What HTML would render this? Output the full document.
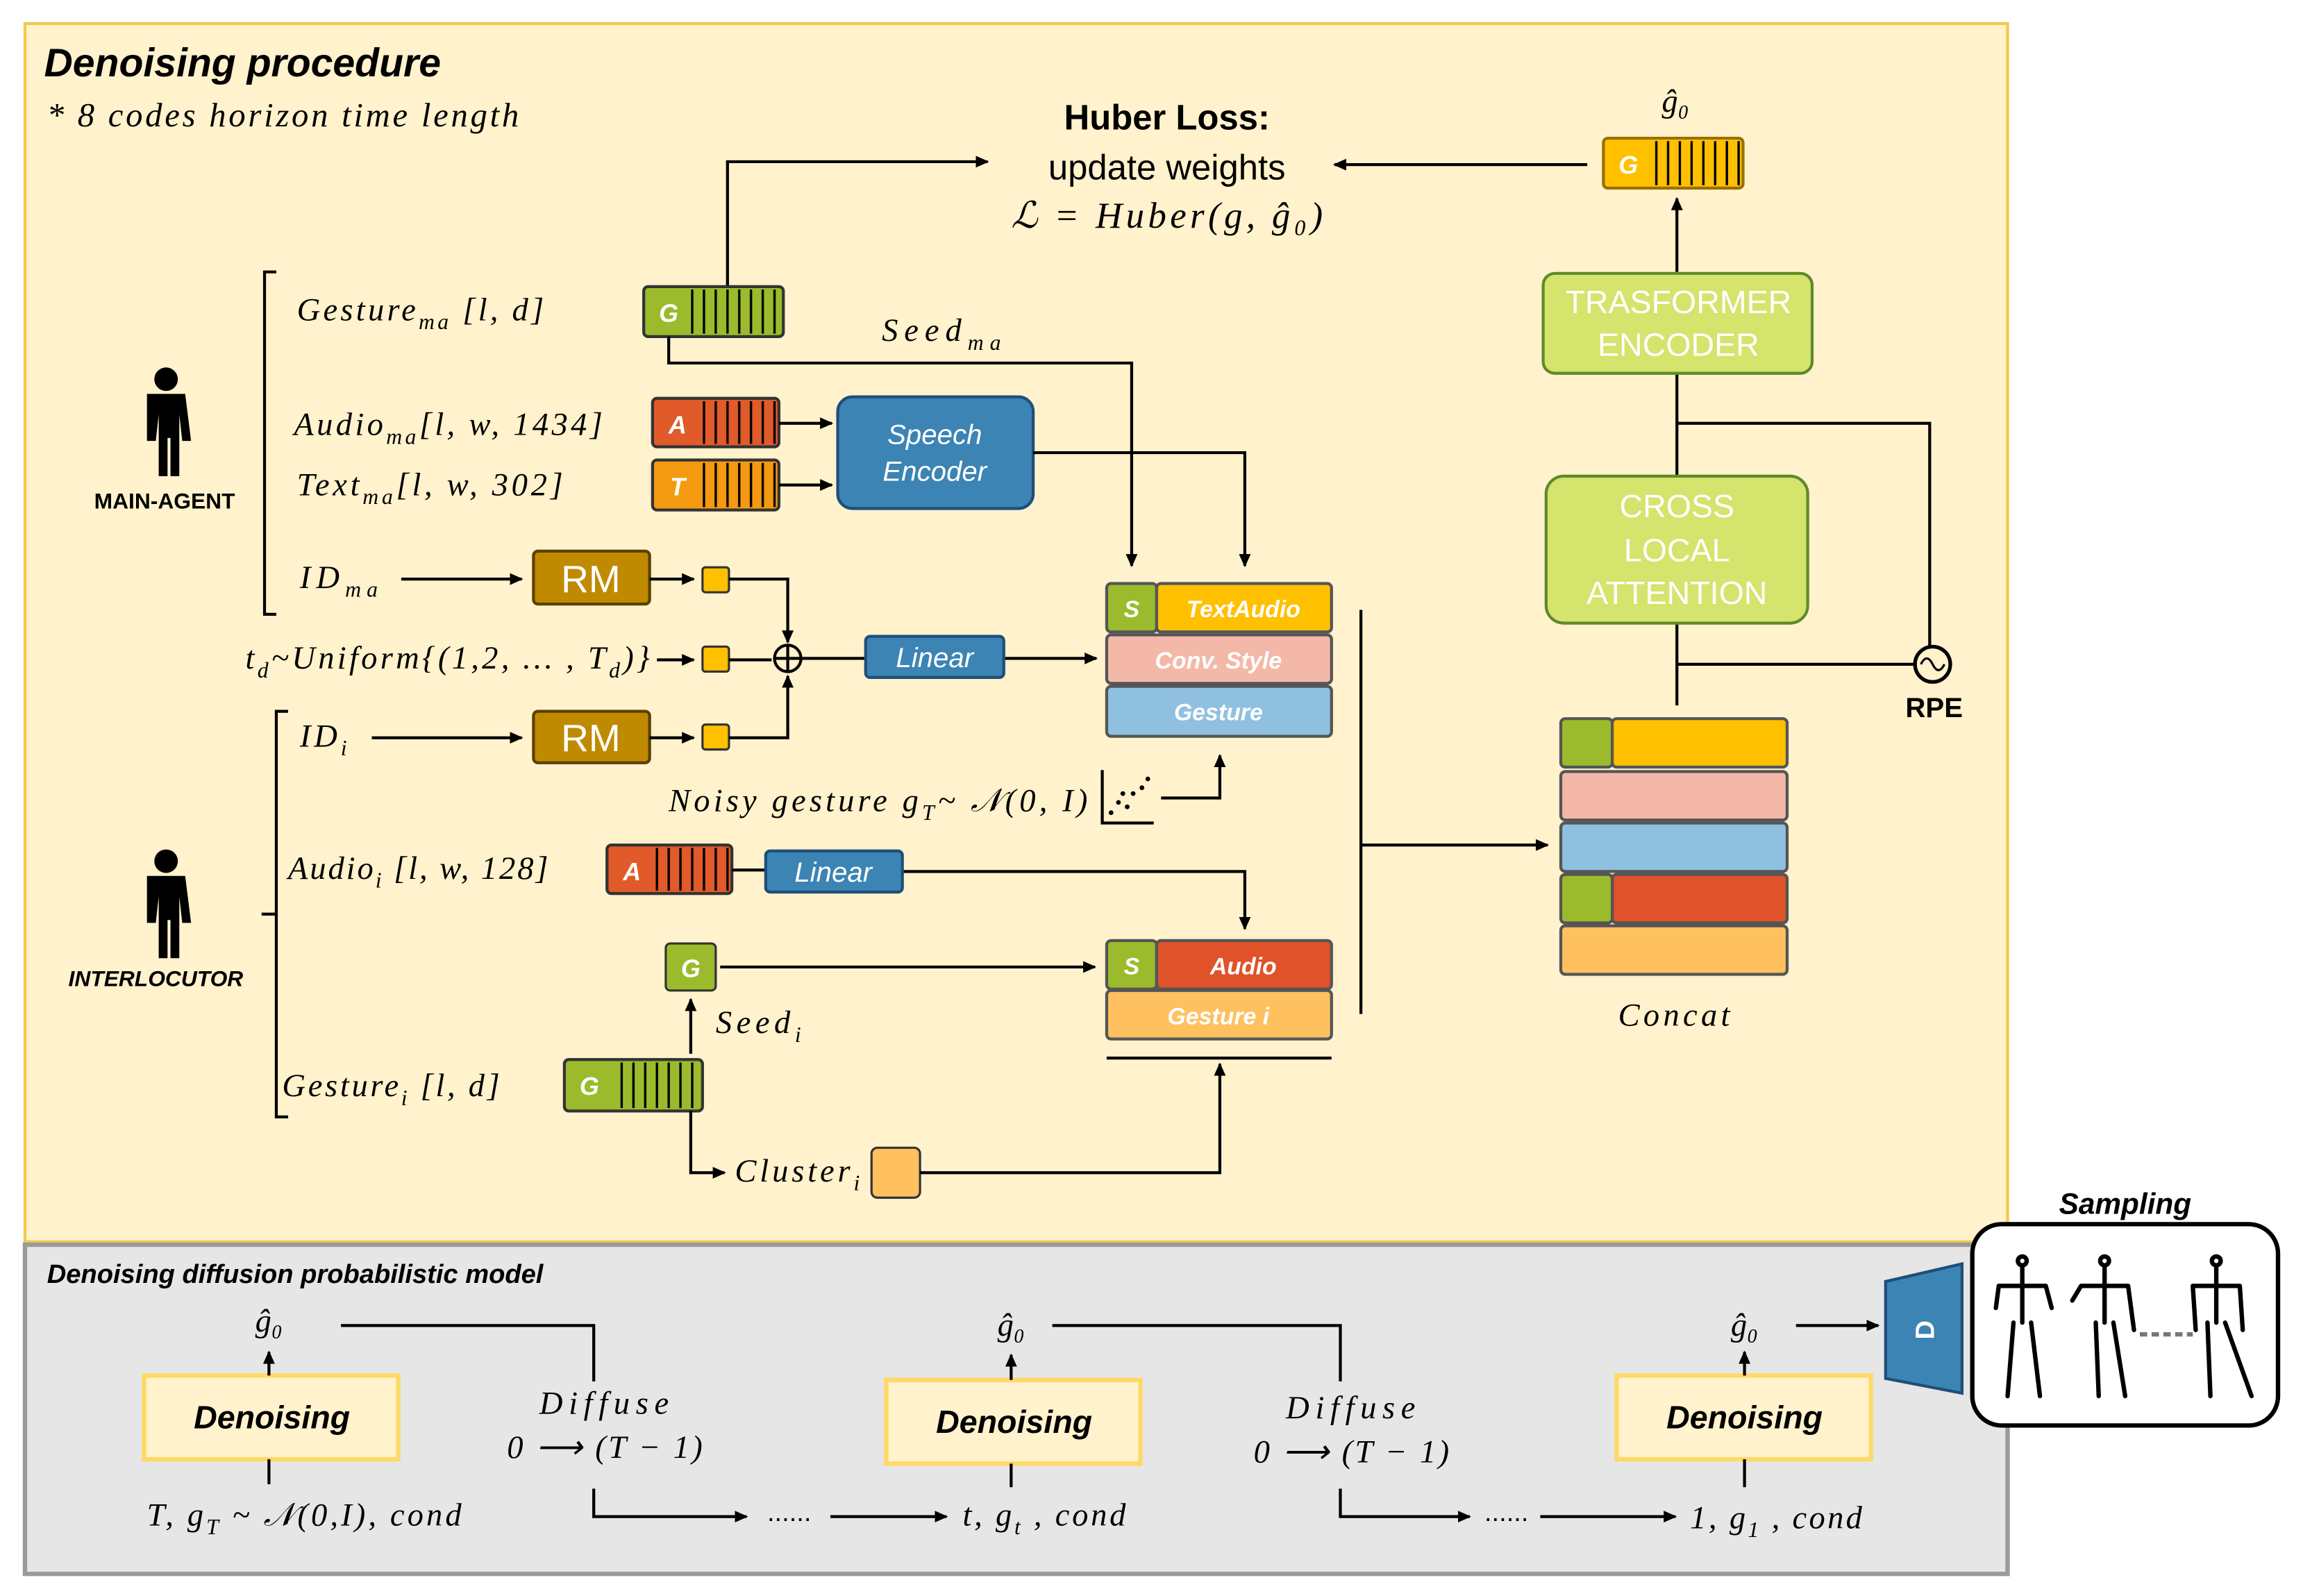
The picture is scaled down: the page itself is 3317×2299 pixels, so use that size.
<!DOCTYPE html>
<html><head><meta charset="utf-8"><style>
html,body{margin:0;padding:0;background:#fff}
svg{display:block}
.s{font-family:"Liberation Serif",serif;font-style:italic;}
.b{font-family:"Liberation Sans",sans-serif;font-weight:bold;font-style:italic;}
.n{font-family:"Liberation Sans",sans-serif;}
</style></head><body>
<svg width="3317" height="2299" viewBox="0 0 1567 1086" xmlns="http://www.w3.org/2000/svg">
<defs>
<marker id="a" markerWidth="10" markerHeight="10" refX="8" refY="5" orient="auto" markerUnits="userSpaceOnUse"><path d="M0,1 L9,5 L0,9 z" fill="#000"/></marker>
<pattern id="st" width="8" height="10" patternUnits="userSpaceOnUse"><rect width="8" height="10" fill="none"/><line x1="7" y1="0" x2="7" y2="10" stroke="#000" stroke-width="1.6"/></pattern>
</defs>
<rect x="0" y="0" width="1567" height="1086" fill="#fff"/>
<rect x="17" y="16" width="1349" height="829" fill="#fff2cc" stroke="#f2c94c" stroke-width="2"/>
<rect x="17" y="847" width="1349" height="224" fill="#e6e6e6" stroke="#9a9a9a" stroke-width="3"/>

<text x="30" y="52" class="b" font-size="27">Denoising procedure</text>
<text x="32" y="86" class="s" font-size="23" textLength="321" lengthAdjust="spacing">* 8 codes horizon time length</text>
<text x="794" y="88" class="n" font-weight="bold" font-size="24" text-anchor="middle">Huber Loss:</text>
<text x="794" y="122" class="n" font-size="24" text-anchor="middle">update weights</text>
<text x="688" y="155" class="s" font-size="25" textLength="212" lengthAdjust="spacing">ℒ = Huber(g, ĝ₀)</text>

<g stroke="#000" stroke-width="2" fill="none">
<path d="M495,195 V110 H672" marker-end="url(#a)"/>
<path d="M1080,112 H908" marker-end="url(#a)"/>
<path d="M1141,185 V135" marker-end="url(#a)"/>
<path d="M1141,254 V324 M1141,288 H1313 V440 M1141,424 V480 M1141,452 H1303"/>
<circle cx="1315" cy="452" r="12" stroke-width="2.5"/>
<path d="M1307,452 q4,-8 8,0 q4,8 8,0" stroke-width="1.5"/>
<path d="M926,415 V690 M926,575 H1053" marker-end="url(#a)"/>
</g>
<text x="1140" y="76" class="s" font-size="22" text-anchor="middle">ĝ₀</text>
<rect x="1091" y="94" width="95" height="34" fill="#ffc000" stroke="#9a7000" stroke-width="2" rx="3"/>
<rect x="1124" y="96" width="60" height="30" fill="url(#st)"/>
<text x="1108" y="118" class="b" font-size="17" fill="#fff" text-anchor="middle">G</text>

<rect x="1050" y="186" width="183" height="68" rx="8" fill="#d4e46c" stroke="#5f8a2a" stroke-width="2"/>
<text x="1142" y="213" class="n" font-size="22" fill="#fff" text-anchor="middle">TRASFORMER</text>
<text x="1142" y="242" class="n" font-size="22" fill="#fff" text-anchor="middle">ENCODER</text>
<rect x="1052" y="324" width="178" height="100" rx="12" fill="#d4e46c" stroke="#5f8a2a" stroke-width="2"/>
<text x="1141" y="352" class="n" font-size="22" fill="#fff" text-anchor="middle">CROSS</text>
<text x="1141" y="382" class="n" font-size="22" fill="#fff" text-anchor="middle">LOCAL</text>
<text x="1141" y="411" class="n" font-size="22" fill="#fff" text-anchor="middle">ATTENTION</text>
<text x="1316" y="488" class="n" font-weight="bold" font-size="19" text-anchor="middle">RPE</text>

<g stroke="#555" stroke-width="2">
<rect x="1062" y="489" width="35" height="33" fill="#9bbb2c" rx="3"/>
<rect x="1097" y="489" width="119" height="33" fill="#ffc000" rx="3"/>
<rect x="1062" y="525" width="154" height="33" fill="#f4b8a8" rx="3"/>
<rect x="1062" y="560" width="154" height="33" fill="#8fc0e0" rx="3"/>
<rect x="1062" y="595" width="35" height="33" fill="#9bbb2c" rx="3"/>
<rect x="1097" y="595" width="119" height="33" fill="#e0522a" rx="3"/>
<rect x="1062" y="630" width="154" height="33" fill="#ffc060" rx="3"/>
</g>
<text x="1101" y="698" class="s" font-size="22" textLength="76" lengthAdjust="spacing">Concat</text>

<!-- left -->
<path d="M188,185 H180 V418 H188" stroke="#000" stroke-width="2" fill="none"/>
<path d="M196,484 H188 V760 H196 M188,622 H178" stroke="#000" stroke-width="2" fill="none"/>
<g fill="#000">
<circle cx="113" cy="258" r="8"/><path d="M100,268 h26 l4,32 h-6 l-2,-18 v42 h-6 v-26 h-2 v26 h-6 v-42 l-2,18 h-6 z"/>
<circle cx="113" cy="586" r="8"/><path d="M100,596 h26 l4,32 h-6 l-2,-18 v42 h-6 v-26 h-2 v26 h-6 v-42 l-2,18 h-6 z"/>
</g>
<text x="112" y="346" class="n" font-weight="bold" font-size="15" text-anchor="middle">MAIN-AGENT</text>
<text x="106" y="671" class="b" font-size="15" text-anchor="middle">INTERLOCUTOR</text>

<text x="202" y="218" class="s" font-size="22" textLength="168" lengthAdjust="spacing">Gesture<tspan font-size="15" dy="6">ma</tspan><tspan dy="-6"> [l, d]</tspan></text>
<text x="200" y="296" class="s" font-size="22" textLength="210" lengthAdjust="spacing">Audio<tspan font-size="15" dy="6">ma</tspan><tspan dy="-6">[l, w, 1434]</tspan></text>
<text x="202" y="337" class="s" font-size="22" textLength="181" lengthAdjust="spacing">Text<tspan font-size="15" dy="6">ma</tspan><tspan dy="-6">[l, w, 302]</tspan></text>
<text x="204" y="400" class="s" font-size="22" textLength="53" lengthAdjust="spacing">ID<tspan font-size="15" dy="6">ma</tspan></text>
<text x="167" y="455" class="s" font-size="22" textLength="275" lengthAdjust="spacing">t<tspan font-size="15" dy="6">d</tspan><tspan dy="-6">~Uniform{(1,2, … , T</tspan><tspan font-size="15" dy="6">d</tspan><tspan dy="-6">)}</tspan></text>
<text x="204" y="508" class="s" font-size="22" textLength="32" lengthAdjust="spacing">ID<tspan font-size="15" dy="6">i</tspan></text>
<text x="196" y="598" class="s" font-size="22" textLength="177" lengthAdjust="spacing">Audio<tspan font-size="15" dy="6">i</tspan><tspan dy="-6"> [l, w, 128]</tspan></text>
<text x="192" y="746" class="s" font-size="22" textLength="148" lengthAdjust="spacing">Gesture<tspan font-size="15" dy="6">i</tspan><tspan dy="-6"> [l, d]</tspan></text>
<text x="600" y="232" class="s" font-size="22" textLength="81" lengthAdjust="spacing">Seed<tspan font-size="15" dy="6">ma</tspan></text>
<text x="487" y="703" class="s" font-size="22" textLength="58" lengthAdjust="spacing">Seed<tspan font-size="15" dy="6">i</tspan></text>
<text x="500" y="804" class="s" font-size="22" textLength="85" lengthAdjust="spacing">Cluster<tspan font-size="15" dy="6">i</tspan></text>
<text x="455" y="552" class="s" font-size="22" textLength="285" lengthAdjust="spacing">Noisy gesture g<tspan font-size="15" dy="6">T</tspan><tspan dy="-6">~ 𝒩(0, I)</tspan></text>

<!-- blocks -->
<g stroke="#333" stroke-width="2">
<rect x="438" y="195" width="95" height="34" rx="3" fill="#9bbb2c"/>
<rect x="444" y="271" width="86" height="33" rx="3" fill="#e05a2a"/>
<rect x="444" y="313" width="86" height="34" rx="3" fill="#f59a10"/>
<rect x="413" y="575" width="85" height="33" rx="3" fill="#e05a2a"/>
<rect x="384" y="721" width="94" height="35" rx="3" fill="#9bbb2c"/>
</g>
<rect x="470" y="197" width="62" height="30" fill="url(#st)"/>
<rect x="476" y="273" width="52" height="29" fill="url(#st)"/>
<rect x="476" y="315" width="52" height="30" fill="url(#st)"/>
<rect x="445" y="577" width="52" height="29" fill="url(#st)"/>
<rect x="416" y="723" width="60" height="31" fill="url(#st)"/>
<text x="455" y="219" class="b" font-size="17" fill="#fff" text-anchor="middle">G</text>
<text x="461" y="295" class="b" font-size="17" fill="#fff" text-anchor="middle">A</text>
<text x="461" y="337" class="b" font-size="17" fill="#fff" text-anchor="middle">T</text>
<text x="430" y="599" class="b" font-size="17" fill="#fff" text-anchor="middle">A</text>
<text x="401" y="745" class="b" font-size="17" fill="#fff" text-anchor="middle">G</text>

<rect x="570" y="270" width="133" height="76" rx="10" fill="#3c84b4" stroke="#1f4e79" stroke-width="2"/>
<text x="636" y="302" class="n" font-style="italic" font-size="19" fill="#fff" text-anchor="middle">Speech</text>
<text x="636" y="327" class="n" font-style="italic" font-size="19" fill="#fff" text-anchor="middle">Encoder</text>

<g stroke="#5a4000" stroke-width="2" fill="#c08a00">
<rect x="363" y="375" width="79" height="36" rx="3"/>
<rect x="363" y="484" width="79" height="35" rx="3"/>
</g>
<text x="402" y="403" class="n" font-size="26" fill="#fff" text-anchor="middle">RM</text>
<text x="402" y="511" class="n" font-size="26" fill="#fff" text-anchor="middle">RM</text>
<g fill="#ffc000" stroke="#333" stroke-width="1.5">
<rect x="478" y="386" width="18" height="17" rx="2"/>
<rect x="478" y="440" width="18" height="17" rx="2"/>
<rect x="478" y="493" width="18" height="17" rx="2"/>
</g>
<rect x="593" y="781" width="33" height="34" rx="4" fill="#ffc060" stroke="#333" stroke-width="1.5"/>

<g stroke="#000" stroke-width="2" fill="none">
<path d="M455,229 V247 H770 V385" marker-end="url(#a)"/>
<path d="M530,288 H566" marker-end="url(#a)"/>
<path d="M530,330 H566" marker-end="url(#a)"/>
<path d="M703,308 H847 V385" marker-end="url(#a)"/>
<path d="M273,394 H355" marker-end="url(#a)"/>
<path d="M442,394 H472" marker-end="url(#a)"/>
<path d="M496,394 H536 V437" marker-end="url(#a)"/>
<path d="M447,449 H472" marker-end="url(#a)"/>
<path d="M496,449 H525"/>
<path d="M253,502 H355" marker-end="url(#a)"/>
<path d="M442,502 H472" marker-end="url(#a)"/>
<path d="M496,502 H536 V460" marker-end="url(#a)"/>
<circle cx="536" cy="448" r="9"/>
<path d="M527,448 H545 M536,439 V457"/>
<path d="M545,448 H589"/>
<path d="M683,448 H746" marker-end="url(#a)"/>
<path d="M790,543 H830 V514" marker-end="url(#a)"/>
<path d="M498,592 H521 M614,593 H847 V632" marker-end="url(#a)"/>
<path d="M490,658 H745" marker-end="url(#a)"/>
<path d="M470,717 V680" marker-end="url(#a)"/>
<path d="M470,756 V798 H493" marker-end="url(#a)"/>
<path d="M626,798 H830 V724" marker-end="url(#a)"/>
<path d="M753,720 H906"/>
<path d="M750,524 V560 H785"/>
</g>
<g fill="#000"><circle cx="756" cy="553" r="1.6"/><circle cx="761" cy="546" r="1.6"/><circle cx="767" cy="549" r="1.6"/><circle cx="771" cy="540" r="1.6"/><circle cx="777" cy="536" r="1.6"/><circle cx="781" cy="530" r="1.6"/><circle cx="764" cy="540" r="1.6"/></g>

<rect x="589" y="433" width="94" height="28" rx="3" fill="#3c84b4" stroke="#1f4e79" stroke-width="2"/>
<text x="636" y="454" class="n" font-style="italic" font-size="19" fill="#fff" text-anchor="middle">Linear</text>
<rect x="521" y="579" width="93" height="28" rx="3" fill="#3c84b4" stroke="#1f4e79" stroke-width="2"/>
<text x="567" y="600" class="n" font-style="italic" font-size="19" fill="#fff" text-anchor="middle">Linear</text>
<rect x="453" y="642" width="34" height="32" rx="3" fill="#9bbb2c" stroke="#333" stroke-width="1.5"/>
<text x="470" y="665" class="b" font-size="17" fill="#fff" text-anchor="middle">G</text>

<g stroke="#555" stroke-width="2">
<rect x="753" y="397" width="34" height="33" rx="3" fill="#9bbb2c"/>
<rect x="787" y="397" width="119" height="33" rx="3" fill="#ffc000"/>
<rect x="753" y="432" width="153" height="33" rx="3" fill="#f4b8a8"/>
<rect x="753" y="467" width="153" height="34" rx="3" fill="#8fc0e0"/>
<rect x="753" y="640" width="34" height="33" rx="3" fill="#9bbb2c"/>
<rect x="787" y="640" width="119" height="33" rx="3" fill="#e0522a"/>
<rect x="753" y="674" width="153" height="33" rx="3" fill="#ffc060"/>
</g>
<g class="b" font-size="16" fill="#fff" text-anchor="middle">
<text x="770" y="420">S</text><text x="846" y="420">TextAudio</text>
<text x="829" y="455">Conv. Style</text><text x="829" y="490">Gesture</text>
<text x="770" y="663">S</text><text x="846" y="663">Audio</text><text x="829" y="697">Gesture i</text>
</g>

<!-- bottom -->
<text x="32" y="873" class="b" font-size="18">Denoising diffusion probabilistic model</text>
<g fill="#fff2cc" stroke="#ffd966" stroke-width="3">
<rect x="98" y="936" width="173" height="57"/>
<rect x="603" y="939" width="173" height="57"/>
<rect x="1100" y="936" width="173" height="57"/>
</g>
<g class="b" font-size="22" text-anchor="middle">
<text x="185" y="972">Denoising</text><text x="690" y="975">Denoising</text><text x="1187" y="972">Denoising</text>
</g>
<g class="s" font-size="22" text-anchor="middle">
<text x="183" y="906">ĝ₀</text><text x="688" y="909">ĝ₀</text><text x="1187" y="909">ĝ₀</text>
</g>
<g class="s" font-size="22">
<text x="367" y="962" textLength="88" lengthAdjust="spacing">Diffuse</text><text x="345" y="992" textLength="133" lengthAdjust="spacing">0 ⟶ (T − 1)</text>
<text x="875" y="965" textLength="88" lengthAdjust="spacing">Diffuse</text><text x="853" y="995" textLength="133" lengthAdjust="spacing">0 ⟶ (T − 1)</text>
</g>
<text x="100" y="1038" class="s" font-size="22" textLength="214" lengthAdjust="spacing">T, g<tspan font-size="15" dy="6">T</tspan><tspan dy="-6"> ~ 𝒩(0,I), cond</tspan></text>
<text x="655" y="1038" class="s" font-size="22" textLength="111" lengthAdjust="spacing">t, g<tspan font-size="15" dy="6">t</tspan><tspan dy="-6"> , cond</tspan></text>
<text x="1150" y="1040" class="s" font-size="22" textLength="117" lengthAdjust="spacing">1, g<tspan font-size="15" dy="6">1</tspan><tspan dy="-6"> , cond</tspan></text>
<text x="537" y="1035" class="n" font-size="18" text-anchor="middle">......</text>
<text x="1025" y="1035" class="n" font-size="18" text-anchor="middle">......</text>
<g stroke="#000" stroke-width="2" fill="none">
<path d="M183,936 V920" marker-end="url(#a)"/><path d="M688,939 V922" marker-end="url(#a)"/><path d="M1187,936 V920" marker-end="url(#a)"/>
<path d="M183,993 V1010 M688,996 V1012 M1187,993 V1012"/>
<path d="M232,902 H404 V940 M716,902 H912 V940"/>
<path d="M404,1013 V1032 H508" marker-end="url(#a)"/>
<path d="M565,1032 H644" marker-end="url(#a)"/>
<path d="M912,1013 V1032 H1000" marker-end="url(#a)"/>
<path d="M1048,1032 H1140" marker-end="url(#a)"/>
<path d="M1222,902 H1278" marker-end="url(#a)"/>
</g>
<polygon points="1283,872 1335,860 1335,948 1283,938" fill="#3c84b4" stroke="#1f4e79" stroke-width="2"/>
<text x="0" y="0" class="n" font-weight="bold" font-size="18" fill="#fff" text-anchor="middle" transform="translate(1316,905) rotate(-90)">D</text>
<text x="1446" y="826" class="b" font-size="20" text-anchor="middle">Sampling</text>
<rect x="1342" y="833" width="208" height="137" rx="20" fill="#fff" stroke="#000" stroke-width="3"/>
<g stroke="#000" stroke-width="3" fill="none" stroke-linecap="round">
<path d="M1376,862 V900 M1360,875 H1392 M1360,875 L1358,890 M1392,875 L1396,890 M1370,900 L1366,950 M1382,900 L1388,950"/>
<circle cx="1376" cy="858" r="3"/>
<path d="M1432,862 V900 M1416,875 H1448 M1416,875 L1410,885 M1448,875 L1452,905 M1426,900 L1428,950 M1438,900 L1446,950"/>
<circle cx="1432" cy="858" r="3"/>
<path d="M1508,862 V900 M1492,875 H1524 M1492,875 L1494,905 M1524,875 L1526,905 M1502,900 L1504,950 M1514,900 L1532,950"/>
<circle cx="1508" cy="858" r="3"/>
</g>
<path d="M1456,908 H1492" stroke="#777" stroke-width="3" stroke-dasharray="5,3"/>
</svg>
</body></html>
